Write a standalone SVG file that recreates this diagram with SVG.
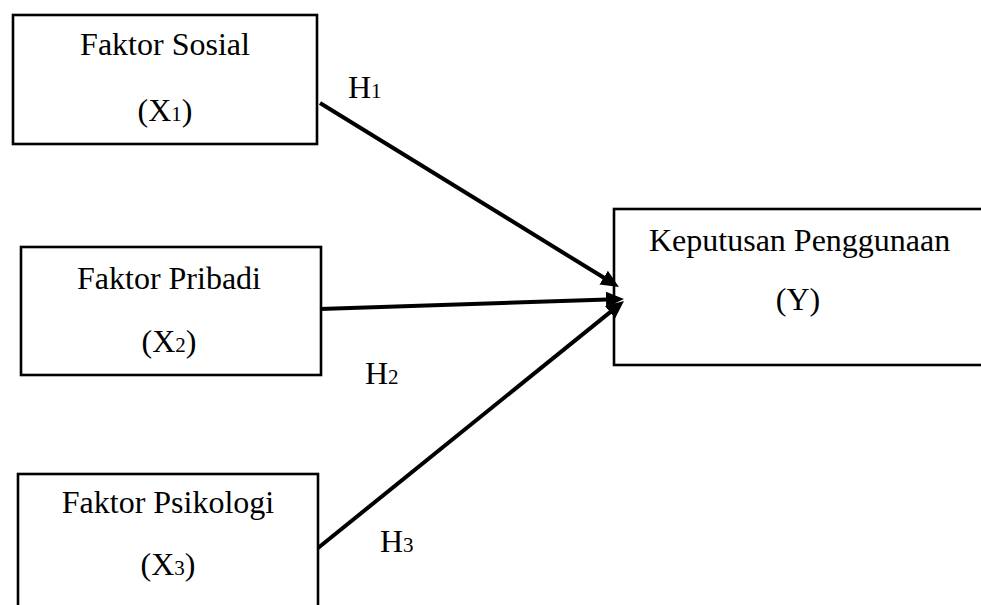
<svg xmlns="http://www.w3.org/2000/svg" width="981" height="605" viewBox="0 0 981 605">
<defs>
<style>
.box{fill:#fff;stroke:#000;stroke-width:2.6}
.t{font-family:'Liberation Serif','DejaVu Serif',serif;font-size:32px;fill:#000}
.c{text-anchor:middle}
.sub{font-size:21px}
.line{stroke:#000;stroke-width:4;fill:none}
</style>
<marker id="ah" markerUnits="userSpaceOnUse" markerWidth="20" markerHeight="18" refX="9" refY="8" orient="auto">
<path d="M0,0 L18,8 L0,16 z" fill="#000"/>
</marker>
</defs>
<rect width="981" height="605" fill="#fff"/>
<g id="x1">
<rect class="box" x="13" y="15" width="304" height="129"/>
<text class="t c" x="165" y="55" font-family="Liberation Serif">Faktor Sosial</text>
<text class="t c" x="165" y="121" font-family="Liberation Serif">(X<tspan class="sub">1</tspan>)</text>
</g>
<g id="x2">
<rect class="box" x="21" y="247" width="300" height="128"/>
<text class="t c" x="169" y="289" font-family="Liberation Serif">Faktor Pribadi</text>
<text class="t c" x="169" y="352" font-family="Liberation Serif">(X<tspan class="sub">2</tspan>)</text>
</g>
<g id="x3">
<rect class="box" x="18" y="474" width="300" height="160"/>
<text class="t c" x="168" y="513" font-family="Liberation Serif">Faktor Psikologi</text>
<text class="t c" x="168" y="575" font-family="Liberation Serif">(X<tspan class="sub">3</tspan>)</text>
</g>
<g id="y">
<rect class="box" x="614" y="209" width="400" height="156"/>
<text class="t" x="649" y="251" font-family="Liberation Serif">Keputusan Penggunaan</text>
<text class="t c" x="798" y="310" font-family="Liberation Serif">(Y)</text>
</g>
<g id="connectors">
<line class="line" x1="320" y1="103" x2="611.3" y2="282.3" marker-end="url(#ah)"/>
<line class="line" x1="320" y1="309" x2="615" y2="299.3" marker-end="url(#ah)"/>
<line class="line" x1="318" y1="548" x2="617" y2="306.6" marker-end="url(#ah)"/>
<text class="t" x="348" y="98" font-family="Liberation Serif">H<tspan class="sub">1</tspan></text>
<text class="t" x="365" y="384" font-family="Liberation Serif">H<tspan class="sub">2</tspan></text>
<text class="t" x="380" y="552" font-family="Liberation Serif">H<tspan class="sub">3</tspan></text>
</g>
</svg>
